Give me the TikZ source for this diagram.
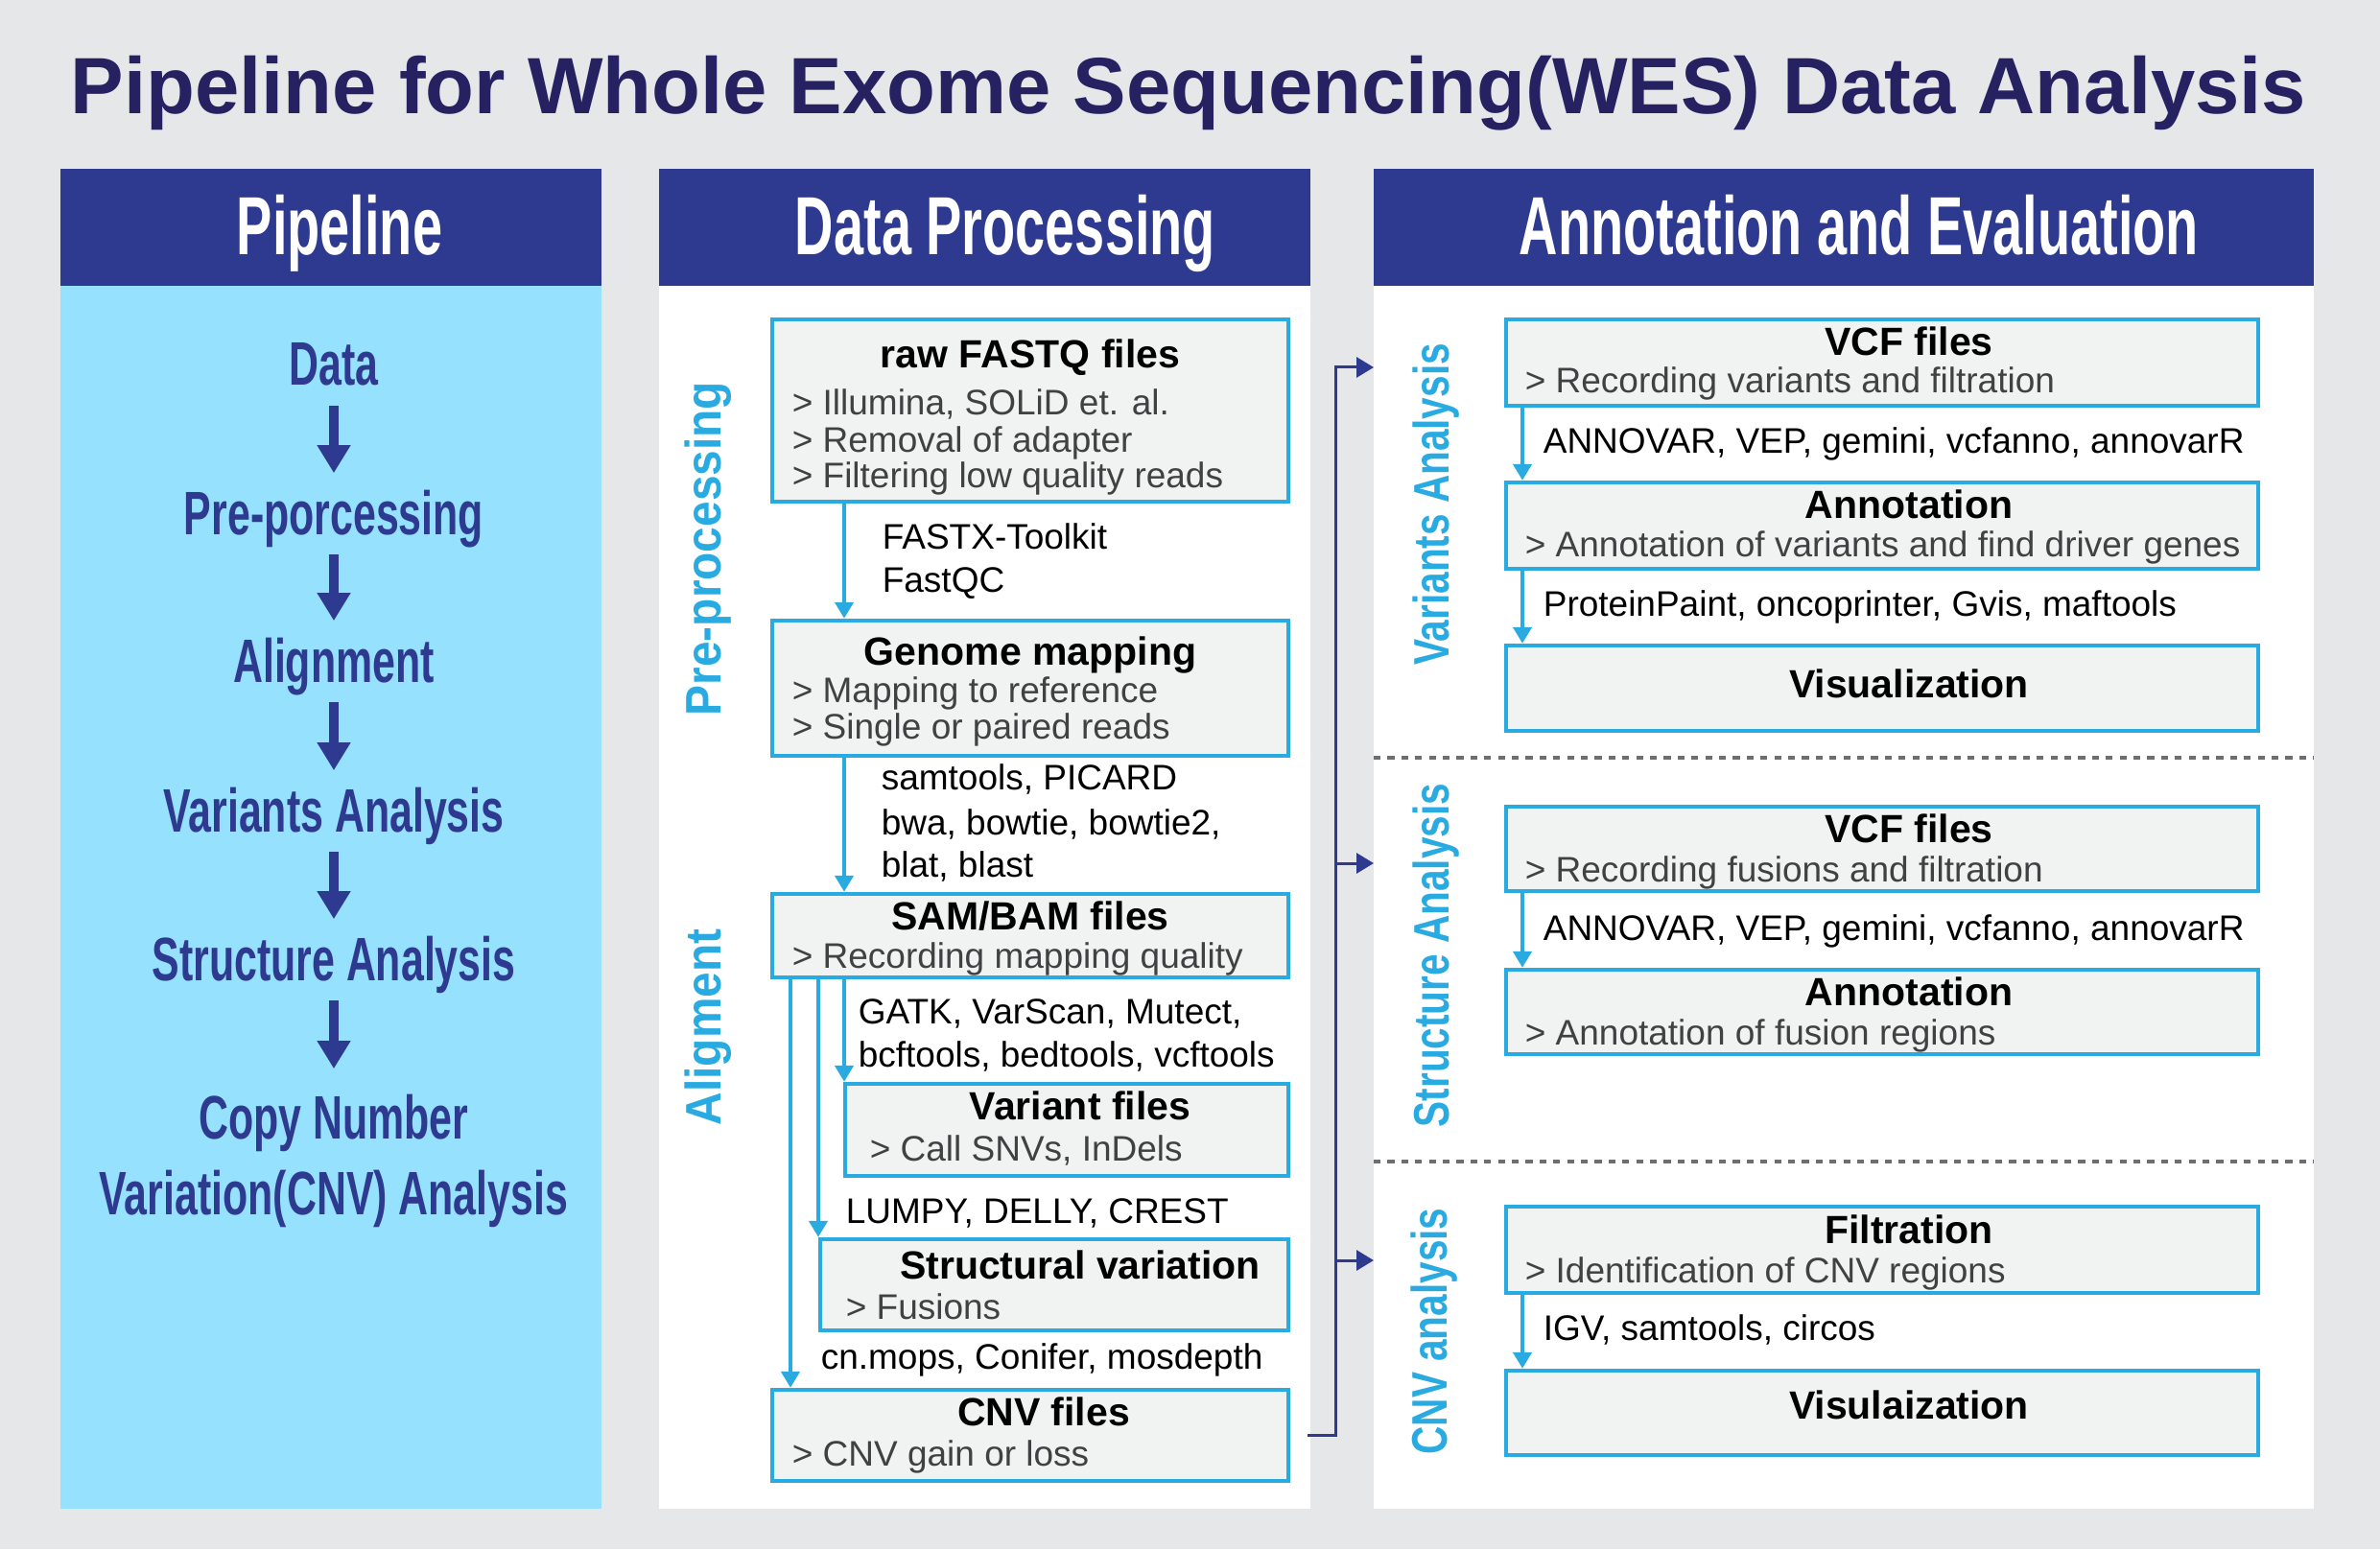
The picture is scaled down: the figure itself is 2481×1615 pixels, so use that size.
\documentclass[tikz,border=0pt]{standalone}
\usepackage{fontspec}
\setmainfont{Liberation Sans}
\newfontfamily\condfont[FakeStretch=0.65]{Liberation Sans}
\newfontfamily\itemfont[FakeStretch=0.67]{Liberation Sans}
\newfontfamily\sidefontA[FakeStretch=0.92]{Liberation Sans}
\newfontfamily\sidefontB[FakeStretch=0.78]{Liberation Sans}
\usetikzlibrary{arrows.meta,fit}
\definecolor{bgcol}{HTML}{E6E7E8}
\definecolor{navy}{HTML}{2E3A8F}
\definecolor{titlecol}{HTML}{262262}
\definecolor{skyfill}{HTML}{96E1FD}
\definecolor{cyanline}{HTML}{29ABE2}
\definecolor{boxfill}{HTML}{F1F2F2}
\definecolor{subgray}{HTML}{414042}
\definecolor{dotgray}{HTML}{6D6E71}

\begin{document}
\begin{tikzpicture}[x=0.25pt, y=-0.25pt,
  panel/.style={inner sep=0pt, outer sep=0pt, draw=none},
  ttl/.style={font=\bfseries\fontsize{20.8pt}{24pt}\selectfont, text=titlecol, anchor=base, inner sep=0pt},
  hdr/.style={font=\condfont\bfseries\fontsize{21.5pt}{26pt}\selectfont, text=white, anchor=base, inner sep=0pt},
  pitem/.style={font=\itemfont\bfseries\fontsize{16pt}{19pt}\selectfont, text=navy, anchor=base,
    inner sep=0pt, text height=11.5pt, text depth=0pt},
  pipearrow/.style={draw=navy, line width=2.5pt, -{Triangle[length=7.25pt,width=8.25pt]},
    shorten <=5pt, shorten >=4.25pt},
  box/.style={draw=cyanline, line width=1.1pt, fill=boxfill, inner sep=0pt, rectangle},
  btitle/.style={font=\bfseries\fontsize{10.25pt}{12pt}\selectfont, anchor=base, inner sep=0pt},
  bsub/.style={font=\fontsize{9.25pt}{9.4pt}\selectfont, text=subgray, anchor=base west, inner sep=0pt},
  tool/.style={font=\fontsize{9.25pt}{11.25pt}\selectfont, anchor=base west, inner sep=0pt},
  sideA/.style={font=\sidefontA\bfseries\fontsize{13pt}{15pt}\selectfont, text=cyanline, anchor=base, rotate=90, inner sep=0pt},
  sideB/.style={font=\sidefontB\bfseries\fontsize{13pt}{15pt}\selectfont, text=cyanline, anchor=base, rotate=90, inner sep=0pt},
  carrow/.style={draw=cyanline, line width=1.1pt, -{Triangle[length=4.25pt,width=4.75pt]}},
  navyline/.style={draw=navy, line width=0.75pt},
  navyarrow/.style={navyline, -{Triangle[length=4.5pt,width=5.25pt]}},
  dotsep/.style={draw=dotgray, line width=1pt, dash pattern=on 1.8pt off 1.8pt}
]
% canvas
\fill[bgcol] (0,0) rectangle (2481,1615);
\useasboundingbox (0,0) rectangle (2481,1615);

% title
\node[ttl] (title) at (1239,119) {Pipeline for Whole Exome Sequencing(WES) Data Analysis};

% three panels
\node[panel, fill=navy, fit={(63,176)(627,298)}] (hdrA) {};
\node[panel, fill=skyfill, fit={(63,298)(627,1573)}] (bodyA) {};
\node[panel, fill=navy, fit={(687,176)(1366,298)}] (hdrB) {};
\node[panel, fill=white, fit={(687,298)(1366,1573)}] (bodyB) {};
\node[panel, fill=navy, fit={(1432,176)(2412,298)}] (hdrC) {};
\node[panel, fill=white, fit={(1432,298)(2412,1573)}] (bodyC) {};

\node[hdr] (hdrAtxt) at (354,266) {Pipeline};
\node[hdr] (hdrBtxt) at (1048,266) {Data Processing};
\node[hdr] (hdrCtxt) at (1938,266) {Annotation and Evaluation};

% pipeline overview
\node[pitem] (pdata) at (348,402) {Data};
\node[pitem] (ppre)  at (348,557) {Pre-porcessing};
\node[pitem] (palign) at (348,711) {Alignment};
\node[pitem] (pvar)  at (348,867) {Variants Analysis};
\node[pitem] (pstruct) at (348,1022) {Structure Analysis};
\node[pitem] (pcopy) at (348,1187) {Copy Number};
\node[pitem] (pcnv)  at (348,1266) {Variation(CNV) Analysis};
\draw[pipearrow] (pdata.south) -- (ppre.north);
\draw[pipearrow] (ppre.south) -- (palign.north);
\draw[pipearrow] (palign.south) -- (pvar.north);
\draw[pipearrow] (pvar.south) -- (pstruct.north);
\draw[pipearrow, shorten >=6.5pt] (pstruct.south) -- (pcopy.north);

% data processing
\node[sideA] (lpre) at (751,572) {Pre-processing};
\node[sideA] (lali) at (751,1071) {Aligment};

\node[box, fit={(805,333)(1343,523)}] (raw) {};
\node[box, fit={(805,647)(1343,788)}] (genome) {};
\node[box, fit={(805,932)(1343,1019)}] (sam) {};
\node[box, fit={(881,1130)(1343,1226)}] (varf) {};
\node[box, fit={(855,1292)(1343,1387)}] (svar) {};
\node[box, fit={(805,1449)(1343,1544)}] (cnvf) {};

\node[btitle] (rawT) at (1074,383) {raw FASTQ files};
\node[bsub] (rawS1) at (825,433) {> Illumina, SOLiD et. al.};
\node[bsub] (rawS2) at (825,471) {> Removal of adapter};
\node[bsub] (rawS3) at (825,508) {> Filtering low quality reads};
\node[tool] (rawK1) at (919,572) {FASTX-Toolkit};
\node[tool] (rawK2) at (919,617) {FastQC};

\node[btitle] (genT) at (1074,693) {Genome mapping};
\node[bsub] (genS1) at (825,732) {> Mapping to reference};
\node[bsub] (genS2) at (825,770) {> Single or paired reads};
\node[tool] (genK1) at (918,823) {samtools, PICARD};
\node[tool] (genK2) at (918,870) {bwa, bowtie, bowtie2,};
\node[tool] (genK3) at (918,914) {blat, blast};

\node[btitle] (samT) at (1074,969) {SAM/BAM files};
\node[bsub] (samS1) at (825,1009) {> Recording mapping quality};
\node[tool] (samK1) at (894,1067) {GATK, VarScan, Mutect,};
\node[tool] (samK2) at (894,1112) {bcftools, bedtools, vcftools};

\node[btitle] (varT) at (1126,1167) {Variant files};
\node[bsub] (varS1) at (906,1210) {> Call SNVs, InDels};
\node[tool] (svK1) at (881,1275) {LUMPY, DELLY, CREST};

\node[btitle] (svT) at (1126,1333) {Structural variation};
\node[bsub] (svS1) at (881,1375) {> Fusions};
\node[tool] (cnK1) at (855,1427) {cn.mops, Conifer, mosdepth};

\node[btitle] (cnT) at (1088,1486) {CNV files};
\node[bsub] (cnS1) at (825,1528) {> CNV gain or loss};

\coordinate (xa) at (880,0);
\coordinate (xb) at (853,0);
\coordinate (xc) at (824,0);
\draw[carrow] (raw.south -| xa) -- (genome.north -| xa);
\draw[carrow] (genome.south -| xa) -- (sam.north -| xa);
\draw[carrow] (sam.south -| xa) -- (varf.north -| xa);
\draw[carrow] (sam.south -| xb) -- (svar.north -| xb);
\draw[carrow] (sam.south -| xc) -- (cnvf.north -| xc);

% annotation and evaluation
\draw[dotsep] (bodyC.west |- 0,790) -- (bodyC.east |- 0,790);
\draw[dotsep] (bodyC.west |- 0,1211) -- (bodyC.east |- 0,1211);

\node[sideB] (lvar) at (1510,526) {Variants Analysis};
\node[sideB] (lstr) at (1510,996) {Structure Analysis};
\node[sideB] (lcnv) at (1508,1388) {CNV analysis};

\node[box, fit={(1570,333)(2354,423)}] (vcfA) {};
\node[box, fit={(1570,503)(2354,593)}] (annA) {};
\node[box, fit={(1570,673)(2354,762)}] (visA) {};
\node[box, fit={(1570,841)(2354,929)}] (vcfB) {};
\node[box, fit={(1570,1011)(2354,1099)}] (annB) {};
\node[box, fit={(1570,1258)(2354,1348)}] (filt) {};
\node[box, fit={(1570,1429)(2354,1517)}] (visB) {};

\node[btitle] (vcfAT) at (1990,371) {VCF files};
\node[bsub] (vcfAS) at (1589,410) {> Recording variants and filtration};
\node[tool] (vcfAK) at (1608,472) {ANNOVAR, VEP, gemini, vcfanno, annovarR};
\node[btitle] (annAT) at (1990,541) {Annotation};
\node[bsub] (annAS) at (1589,580) {> Annotation of variants and find driver genes};
\node[tool] (annAK) at (1608,642) {ProteinPaint, oncoprinter, Gvis, maftools};
\node[btitle] (visAT) at (1990,727) {Visualization};

\node[btitle] (vcfBT) at (1990,878) {VCF files};
\node[bsub] (vcfBS) at (1589,919) {> Recording fusions and filtration};
\node[tool] (vcfBK) at (1608,980) {ANNOVAR, VEP, gemini, vcfanno, annovarR};
\node[btitle] (annBT) at (1990,1048) {Annotation};
\node[bsub] (annBS) at (1589,1089) {> Annotation of fusion regions};

\node[btitle] (filtT) at (1990,1296) {Filtration};
\node[bsub] (filtS) at (1589,1337) {> Identification of CNV regions};
\node[tool] (filtK) at (1608,1397) {IGV, samtools, circos};
\node[btitle] (visBT) at (1990,1479) {Visulaization};

\coordinate (xd) at (1587,0);
\draw[carrow] (vcfA.south -| xd) -- (annA.north -| xd);
\draw[carrow] (annA.south -| xd) -- (visA.north -| xd);
\draw[carrow] (vcfB.south -| xd) -- (annB.north -| xd);
\draw[carrow] (filt.south -| xd) -- (visB.north -| xd);

% hand-over from CNV files to the three analyses
\coordinate (jtop) at (1392,383);
\coordinate (jmid) at (1392,900);
\coordinate (jlow) at (1392,1314);
\draw[navyarrow] ([xshift=4.5pt]cnvf.east) -| (jtop) -- (jtop -| bodyC.west);
\draw[navyarrow] (jmid) -- (jmid -| bodyC.west);
\draw[navyarrow] (jlow) -- (jlow -| bodyC.west);
\end{tikzpicture}
\end{document}
